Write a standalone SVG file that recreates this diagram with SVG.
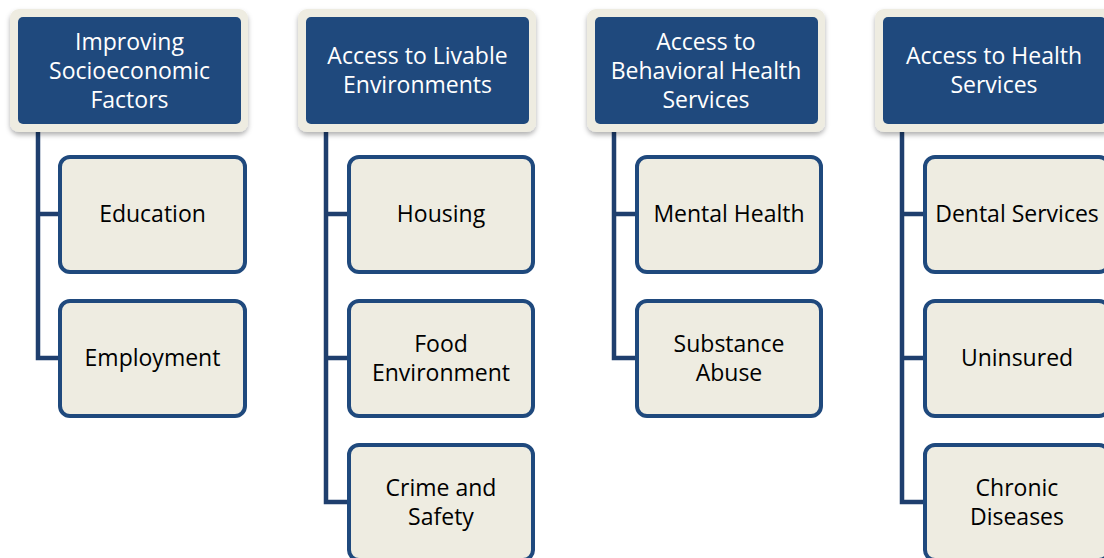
<svg xmlns="http://www.w3.org/2000/svg" width="1104" height="558" viewBox="0 0 1104 558">
<defs>
<filter id="sh" x="-10%" y="-10%" width="120%" height="130%">
<feDropShadow dx="0" dy="3" stdDeviation="2.5" flood-color="#000" flood-opacity="0.3"/>
</filter>
<style>
.hout{fill:#EEECE1;filter:url(#sh)}
.hin{fill:#1F497D}
.child{fill:#EEECE1;stroke:#1F497D;stroke-width:4}
.conn{fill:none;stroke:#1F3F6E;stroke-width:4.5}
.ht{font-family:"Open Sans","Liberation Sans",sans-serif;font-size:23px;fill:#fff;text-anchor:middle}
.ct{font-family:"Open Sans","Liberation Sans",sans-serif;font-size:23px;fill:#000;text-anchor:middle}
</style>
</defs>
<rect width="1104" height="558" fill="#fff"/>
<g id="connectors">
<path class="conn" d="M38 126V358H58M38 214H58"/>
<path class="conn" d="M326 126V502H347M326 214H347M326 358H347"/>
<path class="conn" d="M614 126V358H635M614 214H635"/>
<path class="conn" d="M902 126V502H923M902 214H923M902 358H923"/>
</g>
<g id="h1"><rect class="hout" x="10" y="9" width="238" height="123" rx="9"/><rect class="hin" x="18" y="17" width="223" height="107" rx="5"/>
<text class="ht"><tspan x="129.5" y="50">Improving</tspan><tspan x="129.5" y="79">Socioeconomic</tspan><tspan x="129.5" y="108">Factors</tspan></text></g>
<g id="h2"><rect class="hout" x="298" y="9" width="238" height="123" rx="9"/><rect class="hin" x="306" y="17" width="223" height="107" rx="5"/>
<text class="ht"><tspan x="417.5" y="64">Access to Livable</tspan><tspan x="417.5" y="93">Environments</tspan></text></g>
<g id="h3"><rect class="hout" x="587" y="9" width="238" height="123" rx="9"/><rect class="hin" x="595" y="17" width="223" height="107" rx="5"/>
<text class="ht"><tspan x="706" y="50">Access to</tspan><tspan x="706" y="79">Behavioral Health</tspan><tspan x="706" y="108">Services</tspan></text></g>
<g id="h4"><rect class="hout" x="875" y="9" width="238" height="123" rx="9"/><rect class="hin" x="883" y="17" width="223" height="107" rx="5"/>
<text class="ht"><tspan x="994" y="64">Access to Health</tspan><tspan x="994" y="93">Services</tspan></text></g>
<g id="c1a"><rect class="child" x="60" y="157" width="185" height="115" rx="10"/><text class="ct" x="152.5" y="222">Education</text></g>
<g id="c1b"><rect class="child" x="60" y="301" width="185" height="115" rx="10"/><text class="ct" x="152.5" y="366">Employment</text></g>
<g id="c2a"><rect class="child" x="349" y="157" width="184" height="115" rx="10"/><text class="ct" x="441" y="222">Housing</text></g>
<g id="c2b"><rect class="child" x="349" y="301" width="184" height="115" rx="10"/><text class="ct"><tspan x="441" y="352">Food</tspan><tspan x="441" y="381">Environment</tspan></text></g>
<g id="c2c"><rect class="child" x="349" y="445" width="184" height="115" rx="10"/><text class="ct"><tspan x="441" y="496">Crime and</tspan><tspan x="441" y="525">Safety</tspan></text></g>
<g id="c3a"><rect class="child" x="637" y="157" width="184" height="115" rx="10"/><text class="ct" x="729" y="222">Mental Health</text></g>
<g id="c3b"><rect class="child" x="637" y="301" width="184" height="115" rx="10"/><text class="ct"><tspan x="729" y="352">Substance</tspan><tspan x="729" y="381">Abuse</tspan></text></g>
<g id="c4a"><rect class="child" x="925" y="157" width="184" height="115" rx="10"/><text class="ct" x="1017" y="222">Dental Services</text></g>
<g id="c4b"><rect class="child" x="925" y="301" width="184" height="115" rx="10"/><text class="ct" x="1017" y="366">Uninsured</text></g>
<g id="c4c"><rect class="child" x="925" y="445" width="184" height="115" rx="10"/><text class="ct"><tspan x="1017" y="496">Chronic</tspan><tspan x="1017" y="525">Diseases</tspan></text></g>
</svg>
